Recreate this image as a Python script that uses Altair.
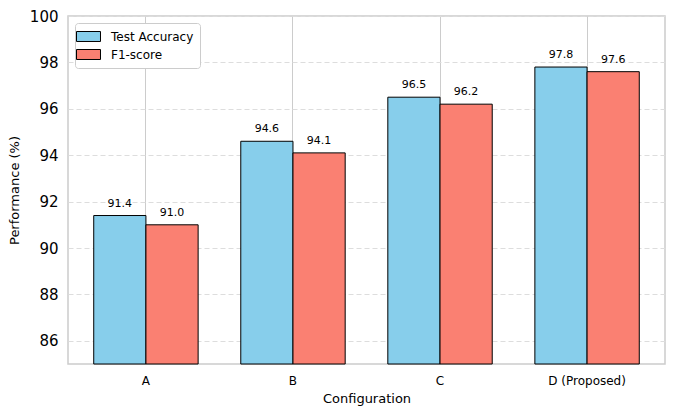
import altair as alt
import pandas as pd

configs = ["A", "B", "C", "D (Proposed)"]
metrics = ["Test Accuracy", "F1-score"]
test_accuracy = [91.4, 94.6, 96.5, 97.8]
f1_score = [91.0, 94.1, 96.2, 97.6]
y_ticks = [86, 88, 90, 92, 94, 96, 98, 100]

rows = []
for c, a, f in zip(configs, test_accuracy, f1_score):
    rows.append({"config": c, "metric": metrics[0], "value": a, "label": f"{a:.1f}"})
    rows.append({"config": c, "metric": metrics[1], "value": f, "label": f"{f:.1f}"})
df = pd.DataFrame(rows)

x_enc = alt.X(
    "config:N",
    sort=configs,
    title="Configuration",
    scale=alt.Scale(paddingInner=0.29, paddingOuter=0.175),
    axis=alt.Axis(
        grid=True, bandPosition=0.5, gridColor="#cccccc", gridWidth=1,
        ticks=False, domain=False, labelAngle=0, labelFontSize=12,
        labelPadding=11, titleFontSize=13, titlePadding=6,
        labelColor="#000000", titleColor="#000000", titleFontWeight="normal",
    ),
)
xoff = alt.XOffset("metric:N", sort=metrics, scale=alt.Scale(paddingInner=0, paddingOuter=0))
y_enc = alt.Y(
    "value:Q",
    title="Performance (%)",
    scale=alt.Scale(domain=[85, 100], zero=False, nice=False),
    axis=alt.Axis(
        values=y_ticks, grid=True, gridColor="#dddddd", gridDash=[5, 3], gridWidth=1,
        ticks=False, domain=False, labelFontSize=15, labelPadding=10,
        titleFontSize=13, titlePadding=8, labelColor="#000000",
        titleColor="#000000", titleFontWeight="normal",
    ),
)

bars = alt.Chart(df).mark_bar(stroke="#000000", strokeWidth=1).encode(
    x=x_enc,
    xOffset=xoff,
    y=y_enc,
    y2=alt.datum(85),
    color=alt.Color(
        "metric:N",
        sort=metrics,
        scale=alt.Scale(domain=metrics, range=["#87CEEB", "#FA8072"]),
        legend=alt.Legend(
            title=None, orient="top-left", offset=7, padding=6,
            strokeColor="#cccccc", fillColor="#ffffff", cornerRadius=3,
            symbolType="M-1.714,-0.714H1.714V0.714H-1.714Z", symbolSize=196,
            symbolStrokeColor="#000000", symbolStrokeWidth=1,
            labelFontSize=12, labelColor="#000000", rowPadding=3, labelOffset=15,
        ),
    ),
)

labels = alt.Chart(df).mark_text(
    baseline="alphabetic", dy=-9, fontSize=11, color="#000000"
).encode(
    x=alt.X("config:N", sort=configs),
    xOffset=xoff,
    y=alt.Y("value:Q"),
    text="label:N",
)

chart = alt.layer(bars, labels).properties(
    width=597,
    height=348,
    autosize=alt.AutoSizeParams(type="none"),
    padding={"left": 60, "top": 8, "right": 12, "bottom": 45},
).configure(
    font="DejaVu Sans",
).configure_view(
    stroke="#cccccc", strokeWidth=1.5,
)

chart.save("out.html", embed_options={"renderer": "svg", "actions": False})
